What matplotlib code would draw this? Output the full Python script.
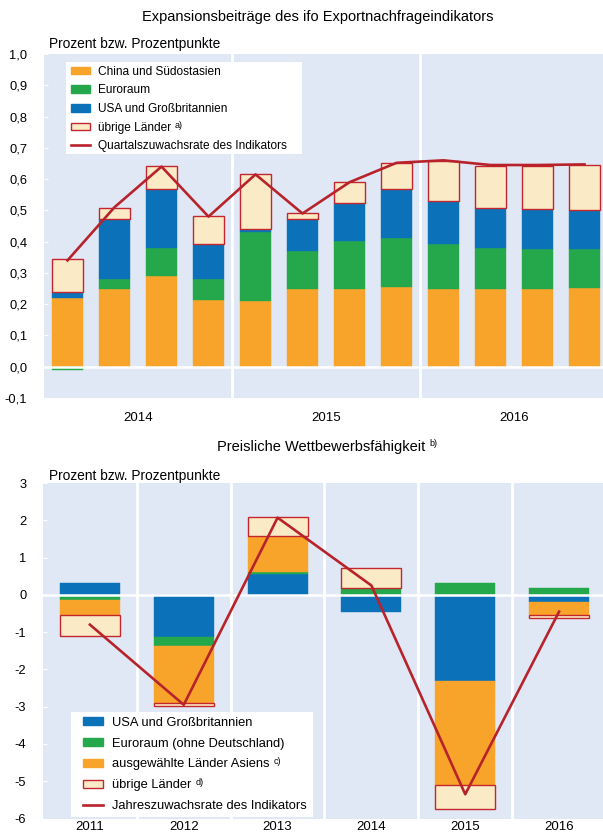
import numpy as np
import matplotlib
matplotlib.use("Agg")
import matplotlib.pyplot as plt
from matplotlib.patches import Patch, Rectangle
from matplotlib.lines import Line2D

plt.rcParams["font.family"] = ["Liberation Sans", "DejaVu Sans"]
plt.rcParams["axes.unicode_minus"] = False

# --- top panel: quarterly contributions 2014-2016 ---
years_top = ["2014", "2015", "2016"]
china = [0.220, 0.247, 0.290, 0.214, 0.211, 0.247, 0.250, 0.254, 0.248, 0.248, 0.250, 0.251]
euro = [-0.010, 0.032, 0.090, 0.065, 0.220, 0.123, 0.153, 0.158, 0.144, 0.132, 0.128, 0.124]
usa_top = [0.020, 0.193, 0.187, 0.114, 0.008, 0.102, 0.121, 0.157, 0.138, 0.127, 0.125, 0.125]
other_top = [0.106, 0.035, 0.074, 0.088, 0.176, 0.019, 0.066, 0.083, 0.128, 0.136, 0.138, 0.144]
quarterly_rate = [0.34, 0.51, 0.64, 0.48, 0.615, 0.49, 0.59, 0.652, 0.66, 0.645, 0.645, 0.647]

# --- bottom panel: price competitiveness 2011-2016 ---
years_bot = ["2011", "2012", "2013", "2014", "2015", "2016"]
usa_bot = [0.32, -1.13, 0.56, -0.47, -2.30, -0.20]
euro_bot = [-0.15, -0.25, 0.05, 0.18, 0.31, 0.18]
asia = [-0.39, -1.52, 0.98, 0.0, -2.79, -0.34]
other_bot = [-0.56, -0.08, 0.49, 0.54, -0.66, -0.08]
annual_rate = [-0.80, -2.95, 2.07, 0.25, -5.35, -0.45]

BG = "#e1e8f5"
ORANGE = "#f8a42b"
GREEN = "#25a84b"
BLUE = "#0b72b9"
CREAM = "#faebc6"
RED = "#c4262e"
LINE = "#b8232b"

W, H = 603, 836


def stacked(ax, series, width):
    n = len(series[0][0])
    x = np.arange(n)
    pos = np.zeros(n)
    neg = np.zeros(n)
    for vals, face, edge in series:
        v = np.array(vals, dtype=float)
        base = np.where(v >= 0, pos, neg)
        ax.bar(x, v, width, bottom=base, color=face,
               edgecolor=edge if edge else face, linewidth=1.0 if edge else 0.3,
               zorder=2)
        pos += np.clip(v, 0, None)
        neg += np.clip(v, None, 0)
    return x


def style(ax, yticks, fmt):
    ax.set_facecolor(BG)
    for s in ax.spines.values():
        s.set_visible(False)
    ax.set_yticks(yticks)
    ax.set_yticklabels([fmt(v) for v in yticks])
    ax.tick_params(axis="y", direction="in", length=3, color="white",
                   pad=12, labelsize=9.3)
    ax.tick_params(axis="x", length=0, pad=10, labelsize=9.5)
    ax.axhline(0, color="white", lw=1.8, zorder=2.5)


def white_box(ax, x0, y0, x1, y1):
    # legend background, given in picture pixels from top-left
    ax.add_patch(Rectangle((x0 / W, 1 - y1 / H), (x1 - x0) / W, (y1 - y0) / H,
                           transform=fig.transFigure, facecolor="white",
                           edgecolor="none", zorder=4, clip_on=False))


def legend_at(ax, handles, labels, x, y, size, spacing):
    leg = ax.legend(handles, labels, loc="center left", frameon=False,
                    bbox_to_anchor=(x / W, 1 - y / H),
                    bbox_transform=fig.transFigure, borderaxespad=0, borderpad=0,
                    fontsize=size, handlelength=1.55, handleheight=0.6,
                    handletextpad=0.7, labelspacing=spacing)
    leg.set_zorder(5)
    return leg


fig = plt.figure(figsize=(6.03, 8.36), dpi=100)

# top chart
ax1 = fig.add_axes([44 / W, 1 - 398 / H, 564 / W, 344 / H])
x1 = stacked(ax1, [(china, ORANGE, None), (euro, GREEN, None),
                   (usa_top, BLUE, None), (other_top, CREAM, RED)], 0.64)
ax1.plot(x1, quarterly_rate, color=LINE, lw=1.9, zorder=3)
style(ax1, np.round(np.arange(-0.1, 1.01, 0.1), 1),
      lambda v: f"{v:.1f}".replace(".", ","))
ax1.set_ylim(-0.1, 1.0)
ax1.set_xlim(-0.5, 11.5)
for sep in (3.5, 7.5):
    ax1.axvline(sep, color="white", lw=2, zorder=1.5)
ax1.set_xticks([1.5, 5.5, 9.5], years_top)

h1 = [Patch(facecolor=ORANGE, edgecolor=ORANGE),
      Patch(facecolor=GREEN, edgecolor=GREEN),
      Patch(facecolor=BLUE, edgecolor=BLUE),
      Patch(facecolor=CREAM, edgecolor=RED),
      Line2D([], [], color=LINE, lw=1.9)]
l1 = ["China und Südostasien", "Euroraum", "USA und Großbritannien",
      "übrige Länder", "Quartalszuwachsrate des Indikators"]
white_box(ax1, 66, 62, 302, 154)
leg1 = legend_at(ax1, h1, l1, 71, 109, 8.6, 0.55)

# bottom chart
ax2 = fig.add_axes([43 / W, 1 - 818.5 / H, 563 / W, 335.5 / H])
x2 = stacked(ax2, [(usa_bot, BLUE, None), (euro_bot, GREEN, None),
                   (asia, ORANGE, None), (other_bot, CREAM, RED)], 0.64)
ax2.plot(x2, annual_rate, color=LINE, lw=1.9, zorder=3)
style(ax2, np.arange(-6, 4), lambda v: f"{v:d}")
ax2.set_ylim(-6, 3)
ax2.set_xlim(-0.5, 5.5)
for sep in np.arange(0.5, 5, 1):
    ax2.axvline(sep, color="white", lw=2, zorder=1.5)
ax2.set_xticks(x2, years_bot)
ax2.tick_params(axis="x", pad=2)

h2 = [Patch(facecolor=BLUE, edgecolor=BLUE),
      Patch(facecolor=GREEN, edgecolor=GREEN),
      Patch(facecolor=ORANGE, edgecolor=ORANGE),
      Patch(facecolor=CREAM, edgecolor=RED),
      Line2D([], [], color=LINE, lw=1.9)]
l2 = ["USA und Großbritannien", "Euroraum (ohne Deutschland)",
      "ausgewählte Länder Asiens", "übrige Länder",
      "Jahreszuwachsrate des Indikators"]
white_box(ax2, 71, 712, 313, 817)
leg2 = legend_at(ax2, h2, l2, 83, 764.5, 9.3, 0.68)

# titles and unit labels
fig.text(318 / W, 1 - 17 / H, "Expansionsbeiträge des ifo Exportnachfrageindikators",
         ha="center", va="center", fontsize=10.5)
fig.text(49 / W, 1 - 44 / H, "Prozent bzw. Prozentpunkte",
         ha="left", va="center", fontsize=9.9)
t2 = fig.text(321.5 / W, 1 - 447 / H, "Preisliche Wettbewerbsfähigkeit",
              ha="center", va="center", fontsize=10.5)
fig.text(49 / W, 1 - 476 / H, "Prozent bzw. Prozentpunkte",
         ha="left", va="center", fontsize=9.9)

# footnote marks set as small raised text after the label they belong to
fig.canvas.draw()
rend = fig.canvas.get_renderer()
notes = [(leg1.get_texts()[3], "a)"), (leg2.get_texts()[2], "c)"),
         (leg2.get_texts()[3], "d)"), (t2, "b)")]
for txt, mark in notes:
    bb = txt.get_window_extent(rend)
    fig.text((bb.x1 + 4) / W, (bb.y1 + 1) / H, mark, fontsize=6.5,
             ha="left", va="top", zorder=6)

fig.savefig("out.png", dpi=100, facecolor="white")
